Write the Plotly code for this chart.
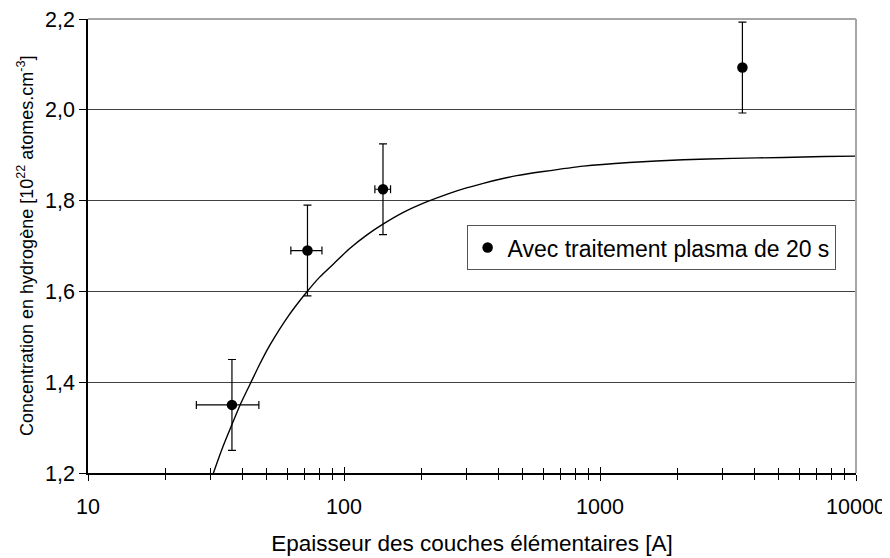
import plotly.graph_objects as go

# Data points
thickness = [36.5, 72, 142, 3600]
hydrogen = [1.35, 1.69, 1.825, 2.093]
thickness_err = [10, 10, 10, 10]
hydrogen_err = [0.1, 0.1, 0.1, 0.1]

# Fitted curve, points
curve_x = [30.9, 33.5, 36.4, 39.5, 42.9, 46.9, 51.4, 60.5, 71.4, 80.5, 90.8, 105, 122.6, 142, 172, 210, 255, 301, 350, 406, 473, 600, 861, 1300, 2113, 3300, 5200, 7500, 10000]
curve_y = [1.200, 1.255, 1.305, 1.353, 1.395, 1.440, 1.482, 1.545, 1.598, 1.632, 1.660, 1.694, 1.724, 1.748, 1.775, 1.797, 1.815, 1.828, 1.838, 1.847, 1.855, 1.864, 1.876, 1.884, 1.890, 1.893, 1.895, 1.897, 1.898]

major_ticks = [10, 100, 1000, 10000]
major_labels = ["10", "100", "1000", "10000"]
minor_ticks = [m * d for d in (10, 100, 1000) for m in range(2, 10)]
y_ticks = [1.2, 1.4, 1.6, 1.8, 2.0, 2.2]
y_title = "Concentration en hydrogène [10<sup>22</sup> atomes.cm<sup>-3</sup>]"

FONT = "Liberation Sans, Arial, sans-serif"

fig = go.Figure()

fig.add_trace(go.Scatter(
    x=curve_x, y=curve_y, mode="lines", line=dict(color="black", width=1.4, shape="spline", smoothing=0.6),
    showlegend=False, xaxis="x2", hoverinfo="skip"))

fig.add_trace(go.Scatter(
    x=thickness, y=hydrogen, mode="markers",
    name="Avec traitement plasma de 20 s",
    marker=dict(color="black", size=10.5, symbol="circle"),
    error_y=dict(type="data", array=hydrogen_err, color="black", thickness=1.2, width=4),
    error_x=dict(type="data", array=thickness_err, color="black", thickness=1.2, width=4),
))

xcommon = dict(type="log", range=[1, 4], tickvals=major_ticks, showgrid=False, zeroline=False, automargin=False)

fig.update_layout(
    width=882, height=550,
    margin=dict(l=80, r=34, t=11, b=85, autoexpand=False),
    paper_bgcolor="white", plot_bgcolor="white",
    separators=",.",
    font=dict(family=FONT, size=21, color="black"),
    showlegend=True,
    legend=dict(x=0.493, y=0.546, xanchor="left", yanchor="top",
                bordercolor="#555555", borderwidth=1, bgcolor="white",
                font=dict(size=23, family=FONT), itemwidth=30,
                tracegroupgap=0),
    xaxis=dict(**xcommon, ticktext=major_labels, ticks="outside", ticklen=6, tickwidth=1,
               tickcolor="black", showline=True, linecolor="black", linewidth=1.5,
               minor=dict(tickvals=minor_ticks, ticks="outside", ticklen=5, tickcolor="black", tickwidth=1),
               tickfont=dict(size=21.5), ticklabelstandoff=7, ticklabeloverflow="allow",
               title=dict(text="Epaisseur des couches élémentaires [A]", font=dict(size=22.5), standoff=18)),
    xaxis2=dict(**xcommon, overlaying="x", showticklabels=False, ticks="inside", ticklen=6, tickwidth=1,
                tickcolor="black", showline=False,
                minor=dict(tickvals=minor_ticks, ticks="inside", ticklen=5, tickcolor="black", tickwidth=1)),
    yaxis=dict(range=[1.2, 2.2], tickvals=y_ticks, tickformat=".1f", ticks="outside", ticklen=7,
               tickcolor="black", showline=True, linecolor="black", linewidth=1.5, automargin=False,
               showgrid=True, gridcolor="#404040", gridwidth=1, zeroline=False,
               tickfont=dict(size=21.5), ticklabelstandoff=0, ticklabeloverflow="allow"),
    annotations=[
        dict(text=y_title, textangle=-90, xref="paper", yref="paper", x=0, y=0.5,
             xanchor="center", yanchor="middle", xshift=-63, showarrow=False,
             font=dict(size=18, family=FONT, color="black")),
    ],
    shapes=[
        dict(type="line", xref="paper", yref="paper", x0=0, x1=1, y0=1, y1=1,
             line=dict(color="#a6a6a6", width=2), layer="above"),
        dict(type="line", xref="paper", yref="paper", x0=1, x1=1, y0=0, y1=1,
             line=dict(color="#a6a6a6", width=2), layer="above"),
    ],
)

fig.write_html("out.html")
